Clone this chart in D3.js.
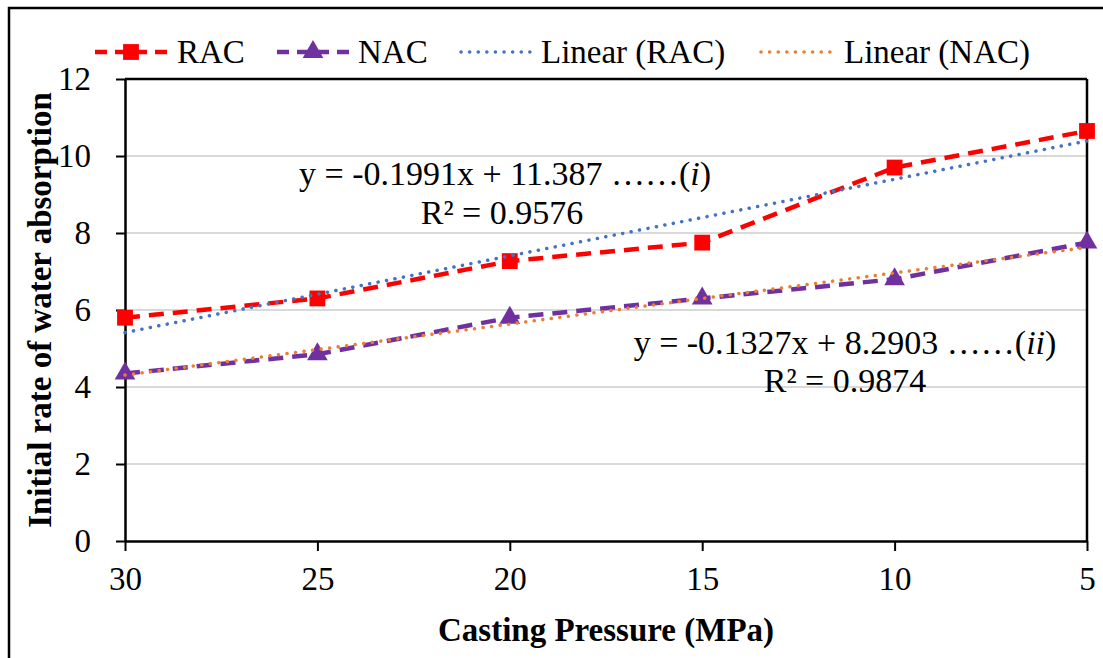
<!DOCTYPE html>
<html>
<head>
<meta charset="utf-8">
<script src="https://cdn.jsdelivr.net/npm/d3@7"></script>
<style>
  body { margin: 0; background: #fff; }
  svg, svg text { font-family: "Times New Roman", "Liberation Serif", Tinos, "DejaVu Serif", "Noto Serif", serif; }
</style>
</head>
<body>
<div id="chart"></div>
<script>
// data
const pressures = ["30", "25", "20", "15", "10", "5"];
const racValues = [5.8, 6.3, 7.27, 7.75, 9.7, 10.65];
const nacValues = [4.35, 4.85, 5.8, 6.3, 6.8, 7.75];
const trendSlopes = [-0.1991, -0.1327];
const trendIntercepts = [11.387, 8.2903];
const yTicks = [0, 2, 4, 6, 8, 10, 12];

const FONT = '"Times New Roman", "Liberation Serif", Tinos, "DejaVu Serif", "Noto Serif", serif';

function draw_chart(chartID) {
    const width = 1103, height = 658;
    const left = 125, right = 1087, top = 79, bottom = 541;

    d3.select(chartID).html("");
    const svg = d3.select(chartID).append("svg")
        .attr("width", width)
        .attr("height", height)
        .attr("font-family", FONT);

    // outer frame
    svg.append("rect")
        .attr("x", 9).attr("y", 8)
        .attr("width", width).attr("height", height)
        .attr("fill", "none").attr("stroke", "#000").attr("stroke-width", 2.5);

    const x = d3.scalePoint().domain(pressures).range([left, right]).padding(0);
    const xNum = d3.scaleLinear().domain([+pressures[0], +pressures[pressures.length - 1]]).range([left, right]);
    const y = d3.scaleLinear().domain([0, 12]).range([bottom, top]);

    // gridlines
    svg.append("g").selectAll("line")
        .data(yTicks.filter(d => d > 0 && d < 12))
        .enter().append("line")
        .attr("x1", left).attr("x2", right)
        .attr("y1", d => y(d)).attr("y2", d => y(d))
        .attr("stroke", "#d9d9d9").attr("stroke-width", 2);

    // y axis
    const yAxis = svg.append("g")
        .attr("transform", `translate(${left},0)`)
        .call(d3.axisLeft(y).tickValues(yTicks).tickSize(9).tickPadding(25).tickSizeOuter(0))
        .attr("font-family", FONT);
    yAxis.select(".domain").attr("stroke", "#000").attr("stroke-width", 2.5);
    yAxis.selectAll(".tick line").attr("stroke", "#000").attr("stroke-width", 2);
    yAxis.selectAll("text").attr("font-size", 33).attr("fill", "#000");

    // x axis
    const xAxis = svg.append("g")
        .attr("transform", `translate(0,${bottom})`)
        .call(d3.axisBottom(x).tickSize(10).tickPadding(16).tickSizeOuter(0))
        .attr("font-family", FONT);
    xAxis.select(".domain").attr("stroke", "#000").attr("stroke-width", 2.5);
    xAxis.selectAll(".tick line").attr("stroke", "#000").attr("stroke-width", 2);
    xAxis.selectAll("text").attr("font-size", 33).attr("fill", "#000");

    // plot frame top and right
    svg.append("line").attr("x1", left).attr("x2", right).attr("y1", top).attr("y2", top)
        .attr("stroke", "#000").attr("stroke-width", 2.5);
    svg.append("line").attr("x1", right).attr("x2", right).attr("y1", top).attr("y2", bottom)
        .attr("stroke", "#000").attr("stroke-width", 2.5);

    const line = d3.line().x((d, i) => x(pressures[i])).y(d => y(d));

    const series = [
        { name: "RAC", values: racValues, color: "#ff0000", marker: d3.symbolSquare, size: 250 },
        { name: "NAC", values: nacValues, color: "#7030a0", marker: d3.symbolTriangle, size: 185 }
    ];
    const trends = [
        { name: "Linear (RAC)", color: "#4472c4", slope: trendSlopes[0], intercept: trendIntercepts[0] },
        { name: "Linear (NAC)", color: "#ed7d31", slope: trendSlopes[1], intercept: trendIntercepts[1] }
    ];

    series.forEach(s => {
        svg.append("path")
            .datum(s.values)
            .attr("d", line)
            .attr("fill", "none")
            .attr("stroke", s.color)
            .attr("stroke-width", 4.5)
            .attr("stroke-dasharray", "15,9");
        svg.selectAll(null)
            .data(s.values)
            .enter().append("path")
            .attr("d", d3.symbol().type(s.marker).size(s.size))
            .attr("transform", (d, i) => `translate(${x(pressures[i])},${y(d)})`)
            .attr("fill", s.color);
    });

    // trendlines drawn on top, as in the reference
    trends.forEach(t => {
        const ends = [+pressures[0], +pressures[pressures.length - 1]];
        svg.append("line")
            .attr("x1", xNum(ends[0])).attr("y1", y(t.slope * ends[0] + t.intercept))
            .attr("x2", xNum(ends[1])).attr("y2", y(t.slope * ends[1] + t.intercept))
            .attr("stroke", t.color)
            .attr("stroke-width", 3.5)
            .attr("stroke-linecap", "round")
            .attr("stroke-dasharray", "0.1,8.5");
    });

    // equations
    const eq = svg.append("g").attr("font-size", 34).attr("fill", "#000").attr("text-anchor", "middle");
    const e1 = eq.append("text").attr("x", 505).attr("y", 185);
    e1.append("tspan").text("y = -0.1991x + 11.387 ……(");
    e1.append("tspan").attr("font-style", "italic").text("i");
    e1.append("tspan").text(")");
    eq.append("text").attr("x", 502).attr("y", 224).text("R² = 0.9576");
    const e2 = eq.append("text").attr("x", 845).attr("y", 354);
    e2.append("tspan").text("y = -0.1327x + 8.2903 ……(");
    e2.append("tspan").attr("font-style", "italic").text("ii");
    e2.append("tspan").text(")");
    eq.append("text").attr("x", 845).attr("y", 392).text("R² = 0.9874");

    // legend
    const legendY = 52;
    const legendItems = [
        { x0: 95, text: 177, s: series[0] },
        { x0: 277, text: 358, s: series[1] },
        { x0: 461, text: 541, t: trends[0] },
        { x0: 761, text: 844, t: trends[1] }
    ];
    legendItems.forEach(it => {
        const g = svg.append("g");
        if (it.s) {
            g.append("line")
                .attr("x1", it.x0).attr("x2", it.x0 + 73)
                .attr("y1", legendY).attr("y2", legendY)
                .attr("stroke", it.s.color).attr("stroke-width", 4.5)
                .attr("stroke-dasharray", "12,8");
            g.append("path")
                .attr("d", d3.symbol().type(it.s.marker).size(it.s.size))
                .attr("transform", `translate(${it.x0 + 36},${legendY})`)
                .attr("fill", it.s.color);
        } else {
            g.append("line")
                .attr("x1", it.x0).attr("x2", it.x0 + 73)
                .attr("y1", legendY).attr("y2", legendY)
                .attr("stroke", it.t.color).attr("stroke-width", 3.5)
                .attr("stroke-linecap", "round")
                .attr("stroke-dasharray", "0.1,8.5");
        }
        g.append("text")
            .attr("x", it.text).attr("y", legendY + 11)
            .attr("font-size", 33).attr("fill", "#000")
            .text(it.s ? it.s.name : it.t.name);
    });

    // axis titles
    svg.append("text")
        .attr("x", (left + right) / 2).attr("y", 641)
        .attr("text-anchor", "middle")
        .attr("font-size", 33).attr("font-weight", "bold")
        .text("Casting Pressure (MPa)");
    svg.append("text")
        .attr("transform", `translate(51,${(top + bottom) / 2}) rotate(-90)`)
        .attr("text-anchor", "middle")
        .attr("font-size", 33).attr("font-weight", "bold")
        .text("Initial rate of water absorption");
}

draw_chart("#chart");
</script>
</body>
</html>
